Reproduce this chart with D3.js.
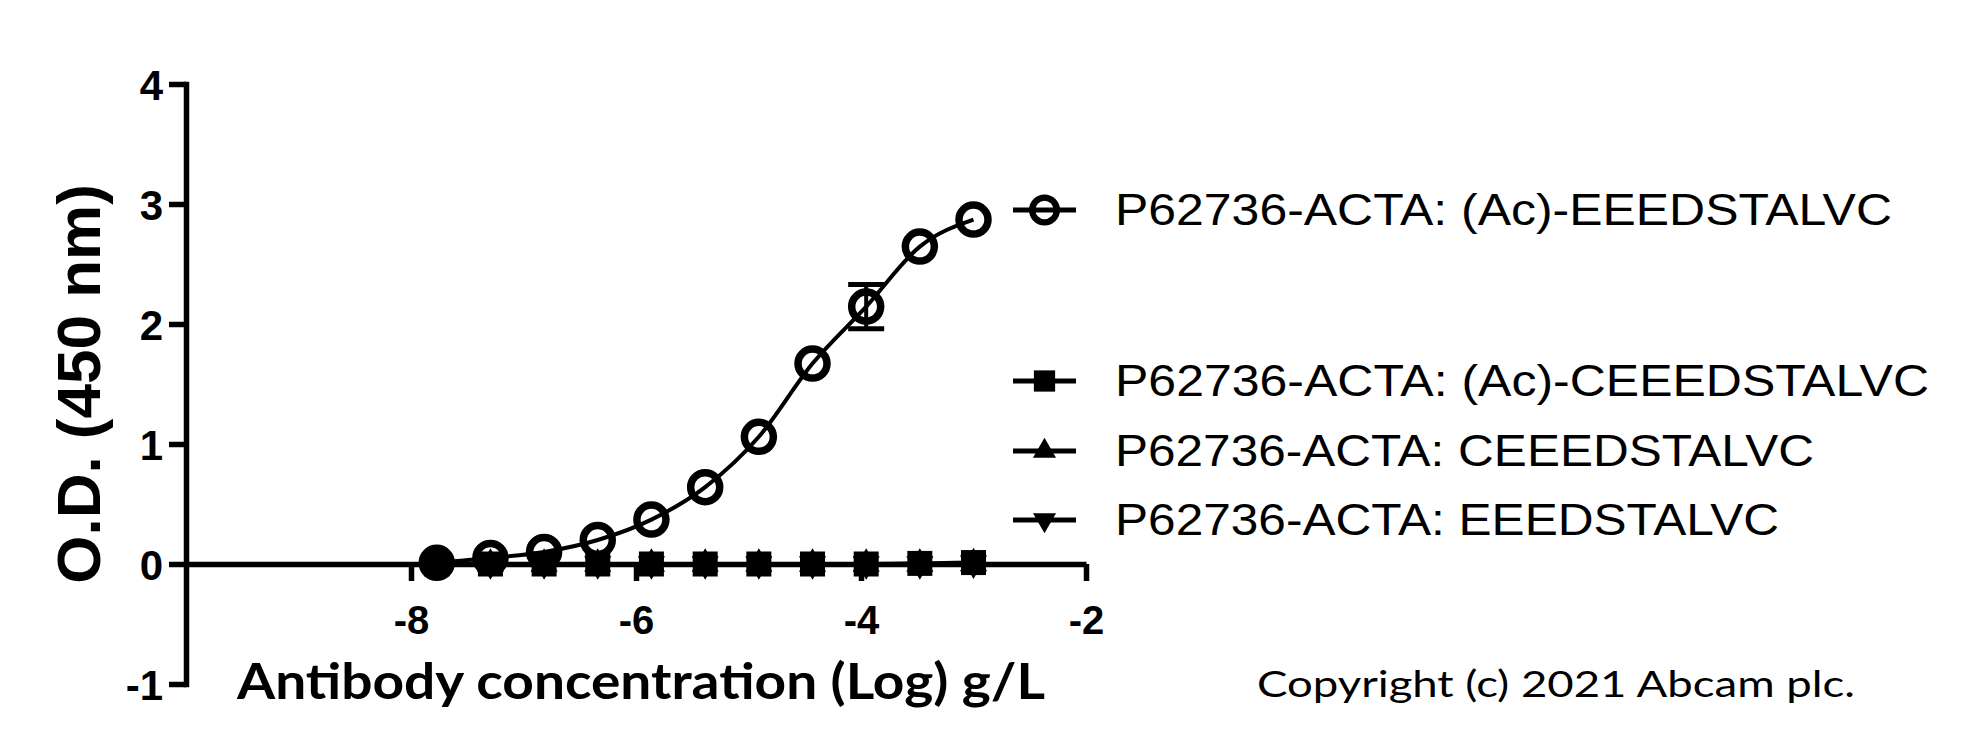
<!DOCTYPE html>
<html>
<head>
<meta charset="utf-8">
<script src="https://cdn.jsdelivr.net/npm/d3@7/dist/d3.min.js"></script>
<style>
  html, body { margin: 0; padding: 0; background: #fff; }
  svg { display: block; }
</style>
</head>
<body>
<svg id="chart" width="1974" height="750"></svg>
<script>
// ---------------- data ----------------
const logConc = [-7.771, -7.294, -6.817, -6.340, -5.863, -5.385, -4.908, -4.431, -3.954, -3.477, -3.000];
const acEEEDSTALVC = [0.01, 0.05, 0.10, 0.20, 0.37, 0.64, 1.06, 1.67, 2.145, 2.645, 2.87];
const acEEEDSTALVCErr = [0, 0, 0, 0, 0, 0, 0, 0, 0.185, 0, 0];
const acCEEEDSTALVC = [0.0, 0.0, 0.0, 0.0, 0.0, 0.0, 0.0, 0.0, 0.0, 0.005, 0.012];
const cEEEDSTALVC = [0.0, 0.0, 0.0, 0.0, 0.0, 0.0, 0.0, 0.0, 0.0, 0.0, 0.005];
const eEEDSTALVC = [0.0, 0.0, 0.0, 0.0, 0.0, 0.0, 0.0, 0.0, 0.0, 0.0, 0.005];
const seriesNames = [
  "P62736-ACTA: (Ac)-EEEDSTALVC",
  "P62736-ACTA: (Ac)-CEEEDSTALVC",
  "P62736-ACTA: CEEEDSTALVC",
  "P62736-ACTA: EEEDSTALVC"
];
const xTicks = [-8, -6, -4, -2];
const yTicks = [-1, 0, 1, 2, 3, 4];
const xTitle = "Antibody concentration (Log) g/L";
const yTitle = "O.D. (450 nm)";
const copyright = "Copyright (c) 2021 Abcam plc.";

// ---------------- layout ----------------
const svg = d3.select("#chart");
svg.append("rect").attr("width", 1974).attr("height", 750).attr("fill", "#fff");

const x = d3.scaleLinear().domain([-10, -2]).range([186, 1086]);
const y = d3.scaleLinear().domain([-1, 4]).range([684, 84]);

const AX_W = 5.5;
const tickFont = "'Liberation Sans', Arial, sans-serif";

// y axis
const yAxis = d3.axisLeft(y).tickValues(yTicks).tickSize(17).tickSizeOuter(0)
  .tickFormat(d => String(d)).tickPadding(6);
const gy = svg.append("g").attr("transform", `translate(${x(-10)},0)`).call(yAxis);
gy.select(".domain").attr("stroke", "#000").attr("stroke-width", AX_W).attr("stroke-linecap", "square");
gy.selectAll(".tick line").attr("stroke", "#000").attr("stroke-width", AX_W).attr("x2", -17);
gy.selectAll(".tick text").attr("fill", "#000").attr("font-family", tickFont)
  .attr("font-weight", "bold").attr("font-size", 42).attr("x", -23).attr("dy", "0.36em");

// x axis
const xAxis = d3.axisBottom(x).tickValues(xTicks).tickSize(17).tickSizeOuter(0)
  .tickFormat(d => String(d));
const gx = svg.append("g").attr("transform", `translate(0,${y(0)})`).call(xAxis);
gx.select(".domain").attr("stroke", "#000").attr("stroke-width", AX_W);
gx.selectAll(".tick line").attr("stroke", "#000").attr("stroke-width", AX_W);
gx.selectAll(".tick text").attr("fill", "#000").attr("font-family", tickFont)
  .attr("font-weight", "bold").attr("font-size", 40).attr("y", 70).attr("dy", 0);

// titles
svg.append("text")
  .attr("transform", `translate(100,${(y(-1) + y(4)) / 2}) rotate(-90)`)
  .attr("text-anchor", "middle")
  .attr("font-family", tickFont).attr("font-weight", "bold").attr("font-size", 62)
  .attr("fill", "#000").text(yTitle);

svg.append("text")
  .attr("x", 237).attr("y", 699)
  .attr("font-family", "Lato, 'DejaVu Sans', sans-serif").attr("font-weight", "bold")
  .attr("font-size", 50).attr("fill", "#000")
  .attr("textLength", 808).attr("lengthAdjust", "spacingAndGlyphs")
  .text(xTitle);

svg.append("text")
  .attr("x", 1257).attr("y", 697)
  .attr("font-family", "Lato, 'DejaVu Sans', sans-serif")
  .attr("font-size", 37).attr("fill", "#000")
  .attr("textLength", 598).attr("lengthAdjust", "spacingAndGlyphs")
  .text(copyright);

// ---------------- series ----------------
const line = d3.line().x(d => x(d[0])).y(d => y(d[1])).curve(d3.curveMonotoneX);
const plot = svg.append("g");

const symSquare = d3.symbol().type(d3.symbolSquare).size(625);
const symTri = d3.symbol().type(d3.symbolTriangle).size(320);

const series = [
  { name: seriesNames[0], vals: acEEEDSTALVC, err: acEEEDSTALVCErr, type: "circle" },
  { name: seriesNames[1], vals: acCEEEDSTALVC, err: null, type: "square" },
  { name: seriesNames[2], vals: cEEEDSTALVC, err: null, type: "up" },
  { name: seriesNames[3], vals: eEEDSTALVC, err: null, type: "down" }
];

function drawMarker(g, type, cx, cy, scale) {
  const k = scale || 1;
  if (type === "circle") {
    g.append("circle").attr("cx", cx).attr("cy", cy).attr("r", 14.5 * k)
      .attr("fill", "none").attr("stroke", "#000").attr("stroke-width", 7.5 * k);
  } else if (type === "square") {
    g.append("path").attr("d", symSquare()).attr("transform", `translate(${cx},${cy}) scale(${k})`).attr("fill", "#000");
  } else if (type === "up") {
    g.append("path").attr("d", symTri()).attr("transform", `translate(${cx},${cy}) scale(${k})`).attr("fill", "#000");
  } else {
    g.append("path").attr("d", symTri()).attr("transform", `translate(${cx},${cy}) rotate(180) scale(${k})`).attr("fill", "#000");
  }
}

series.forEach(s => {
  const pts = logConc.map((c, i) => [c, s.vals[i]]);
  const g = plot.append("g");
  g.append("path").attr("d", line(pts)).attr("fill", "none")
    .attr("stroke", "#000").attr("stroke-width", 4);
  if (s.err) {
    pts.forEach((p, i) => {
      const e = s.err[i];
      if (!e) return;
      const cx = x(p[0]);
      const y1 = y(p[1] + e), y2 = y(p[1] - e);
      g.append("line").attr("x1", cx).attr("x2", cx).attr("y1", y1).attr("y2", y2)
        .attr("stroke", "#000").attr("stroke-width", 4);
      [y1, y2].forEach(yy => g.append("line").attr("x1", cx - 18).attr("x2", cx + 18)
        .attr("y1", yy).attr("y2", yy).attr("stroke", "#000").attr("stroke-width", 5));
    });
  }
  pts.forEach(p => drawMarker(g, s.type, x(p[0]), y(p[1])));
});

// ---------------- legend ----------------
const legendRows = [210, 381, 451, 520];
const legendLens = [777, 814, 699, 664];
const lg = svg.append("g");
series.forEach((s, i) => {
  const cy = legendRows[i];
  lg.append("line").attr("x1", 1013).attr("x2", 1076).attr("y1", cy).attr("y2", cy)
    .attr("stroke", "#000").attr("stroke-width", 5);
  drawMarker(lg, s.type, 1044.5, cy, 0.85);
  lg.append("text").attr("x", 1115).attr("y", cy + 15)
    .attr("font-family", "'Liberation Sans', Arial, sans-serif").attr("font-size", 44)
    .attr("fill", "#000")
    .attr("textLength", legendLens[i]).attr("lengthAdjust", "spacingAndGlyphs")
    .text(s.name);
});
</script>
</body>
</html>
